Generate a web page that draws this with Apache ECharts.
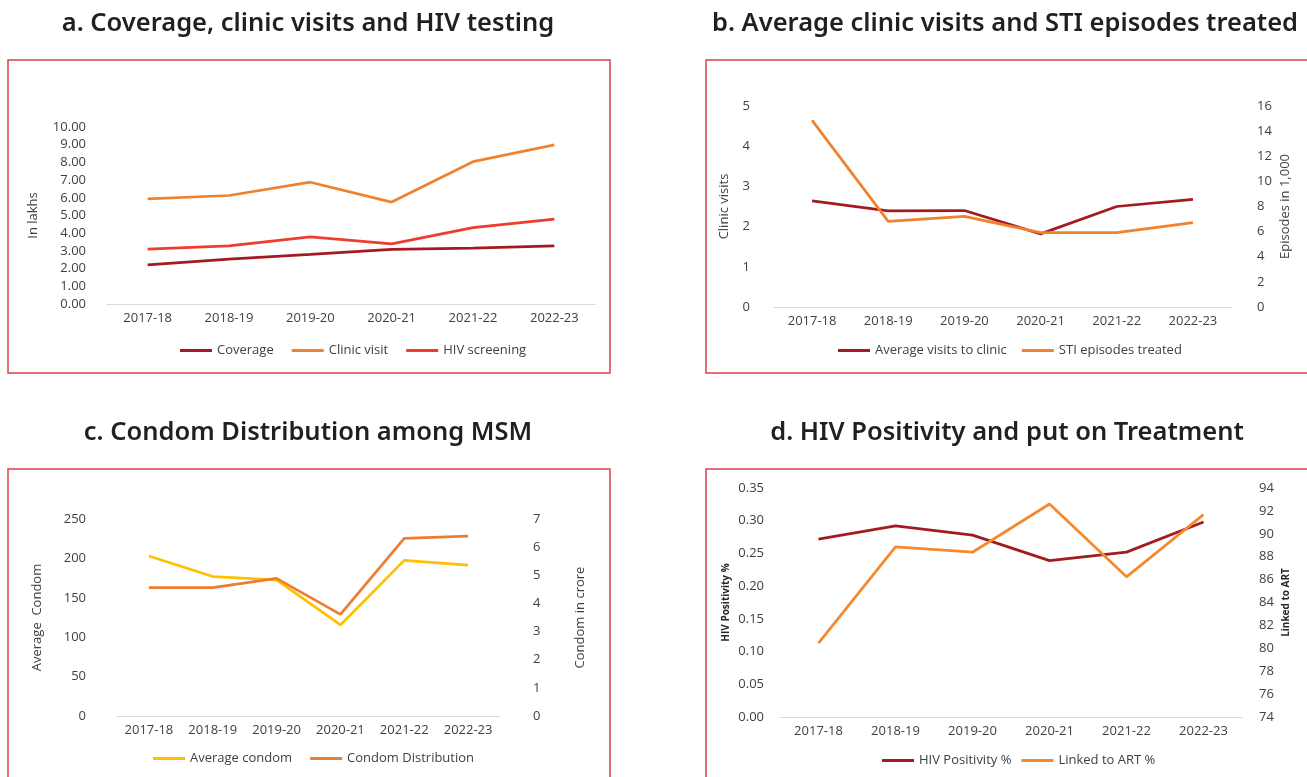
<!DOCTYPE html>
<html>
<head>
<meta charset="utf-8">
<script src="https://cdn.jsdelivr.net/npm/echarts@6/dist/echarts.min.js"></script>
<style>
html,body{margin:0;padding:0;background:#fff}
#main{width:1307px;height:777px}
</style>
</head>
<body>
<div id="main"></div>
<script>
// categories
const years = ['2017-18', '2018-19', '2019-20', '2020-21', '2021-22', '2022-23'];

// a. coverage, clinic visits, HIV testing (in lakhs)
const coverage = [2.21, 2.54, 2.80, 3.08, 3.16, 3.29];
const clinicVisit = [5.94, 6.13, 6.88, 5.76, 8.04, 8.99];
const hivScreening = [3.10, 3.29, 3.79, 3.40, 4.32, 4.79];

// b. average clinic visits / STI episodes (in 1,000)
const avgVisits = [2.64, 2.39, 2.40, 1.82, 2.50, 2.68];
const stiEpisodes = [14.86, 6.82, 7.22, 5.92, 5.92, 6.71];

// c. condom distribution
const avgCondom = [203, 177, 172.6, 115.5, 197.5, 191.6];
const condomDist = [4.56, 4.56, 4.89, 3.61, 6.31, 6.39];

// d. HIV positivity and linked to ART
const hivPositivity = [0.272, 0.292, 0.278, 0.239, 0.252, 0.298];
const linkedART = [80.45, 88.85, 88.39, 92.6, 86.24, 91.67];

const txt = '#404040';
const font = 'Open Sans';
const boxColor = '#d9434b';

function xAx(gi) {
  return {
    type: 'category', gridIndex: gi, data: years,
    axisLine: {lineStyle: {color: '#d9d9d9', width: 1}},
    axisTick: {show: false},
    axisLabel: {color: txt, fontSize: 13, fontFamily: font, margin: 8},
    splitLine: {show: false}
  };
}

function yAx(gi, pos, min, max, interval, name, nameGap, margin, fmt, bold) {
  return {
    type: 'value', gridIndex: gi, position: pos,
    min: min, max: max, interval: interval,
    name: name, nameLocation: 'middle', nameGap: nameGap, nameRotate: 90,
    nameTextStyle: {color: bold ? '#262626' : txt, fontSize: bold ? 10 : 13, fontFamily: font, fontWeight: bold ? 'bold' : 'normal'},
    axisLine: {show: false}, axisTick: {show: false}, splitLine: {show: false},
    axisLabel: {color: txt, fontSize: 13, fontFamily: font, margin: margin, formatter: fmt}
  };
}

function line(name, xi, yi, data, color) {
  return {
    name: name, type: 'line', xAxisIndex: xi, yAxisIndex: yi, data: data,
    symbol: 'none', smooth: false,
    lineStyle: {color: color, width: 2.75}, itemStyle: {color: color}
  };
}

function legend(names, left, top, gap) {
  return {
    data: names, left: left, top: top, itemGap: gap, padding: 0,
    icon: 'rect', itemWidth: 32, itemHeight: 3,
    textStyle: {color: txt, fontSize: 13, fontFamily: font}
  };
}

function title(text, x, y) {
  return {
    type: 'text', x: x, y: y,
    style: {text: text, font: '600 25.5px "Noto Sans"', fill: '#231f20', align: 'center', verticalAlign: 'middle'}
  };
}

function box(x, y, w, h) {
  return {
    type: 'rect', shape: {x: x, y: y, width: w, height: h},
    style: {fill: 'none', stroke: boxColor, lineWidth: 1.5}
  };
}

const fix2 = v => v.toFixed(2);

const option = {
  backgroundColor: '#fff',
  animation: false,
  grid: [
    {left: 107, top: 127, width: 488, height: 177, outerBoundsMode: 'none'},
    {left: 774, top: 106, width: 457, height: 201, outerBoundsMode: 'none'},
    {left: 117, top: 519, width: 383, height: 197, outerBoundsMode: 'none'},
    {left: 780, top: 488, width: 462, height: 229, outerBoundsMode: 'none'}
  ],
  xAxis: [xAx(0), xAx(1), xAx(2), xAx(3)],
  yAxis: [
    yAx(0, 'left', 0, 10, 1, 'In lakhs', 67, 21, fix2),
    yAx(1, 'left', 0, 5, 1, 'Clinic visits', 43, 24),
    yAx(1, 'right', 0, 16, 2, 'Episodes in 1,000', 48, 26),
    yAx(2, 'left', 0, 250, 50, 'Average  Condom', 73, 31),
    yAx(2, 'right', 0, 7, 1, 'Condom in crore', 74, 33),
    yAx(3, 'left', 0, 0.35, 0.05, 'HIV Positivity %', 49, 16, fix2, true),
    yAx(3, 'right', 74, 94, 2, 'Linked to ART', 39, 17, null, true)
  ],
  legend: [
    legend(['Coverage', 'Clinic visit', 'HIV screening'], 180, 344, 18),
    legend(['Average visits to clinic', 'STI episodes treated'], 838, 344, 15),
    legend(['Average condom', 'Condom Distribution'], 153, 752, 18),
    legend(['HIV Positivity %', 'Linked to ART %'], 882, 754, 10)
  ],
  series: [
    line('Coverage', 0, 0, coverage, '#a31b21'),
    line('Clinic visit', 0, 0, clinicVisit, '#f0822e'),
    line('HIV screening', 0, 0, hivScreening, '#ee3d2f'),
    line('Average visits to clinic', 1, 1, avgVisits, '#a31b21'),
    line('STI episodes treated', 1, 2, stiEpisodes, '#f0822e'),
    line('Average condom', 2, 3, avgCondom, '#ffc000'),
    line('Condom Distribution', 2, 4, condomDist, '#ed7d31'),
    line('HIV Positivity %', 3, 5, hivPositivity, '#a31b21'),
    line('Linked to ART %', 3, 6, linkedART, '#f58a2c')
  ],
  graphic: [
    box(8, 60, 602, 313),
    box(706, 60, 620, 313),
    box(8, 469, 602, 330),
    box(706, 469, 620, 330),
    title('a. Coverage, clinic visits and HIV testing', 308, 24),
    title('b. Average clinic visits and STI episodes treated', 1005, 24),
    title('c. Condom Distribution among MSM', 308, 433),
    title('d. HIV Positivity and put on Treatment', 1007, 433)
  ]
};

const chart = echarts.init(document.getElementById('main'));
chart.setOption(option);
</script>
</body>
</html>
